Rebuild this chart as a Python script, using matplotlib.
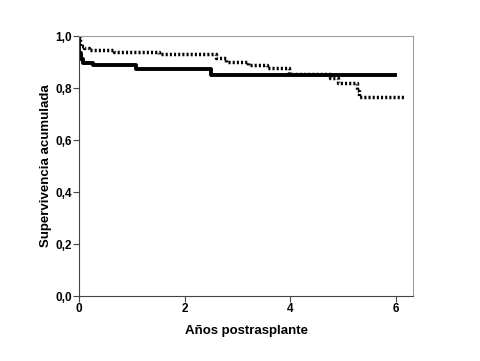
import matplotlib
matplotlib.use("Agg")
import matplotlib.pyplot as plt
from matplotlib.ticker import FuncFormatter

plt.rcParams['font.family'] = ['Liberation Sans', 'DejaVu Sans']

# solid group
t_solid = [0.0, 0.01, 0.04, 0.08, 0.27, 1.08, 2.5, 5.98]
s_solid = [1.0, 0.935, 0.912, 0.898, 0.888, 0.873, 0.851, 0.851]

# dotted group
t_dot = [0.0, 0.02, 0.1, 0.19, 0.66, 1.52, 2.6, 2.79, 3.19, 3.55, 3.98, 4.74, 4.9, 5.26, 5.3, 6.17]
s_dot = [1.0, 0.962, 0.953, 0.946, 0.94, 0.93, 0.914, 0.90, 0.888, 0.876, 0.856, 0.837, 0.818, 0.79, 0.764, 0.764]

xticks = [0, 2, 4, 6]
yticks = [0.0, 0.2, 0.4, 0.6, 0.8, 1.0]

fig = plt.figure(figsize=(4.81, 3.61), dpi=100)
ax = fig.add_axes([0.164, 0.18, 0.695, 0.72])

ax.step(t_dot, s_dot, where='post', color='black', lw=2.5, linestyle=(0, (0.6, 0.6)))
ax.step(t_solid, s_solid, where='post', color='black', lw=2.8)

ax.set_xlim(0, 6.32)
ax.set_ylim(0, 1.0)
ax.set_xticks(xticks)
ax.set_yticks(yticks)
ax.yaxis.set_major_formatter(FuncFormatter(lambda v, p: ('%.1f' % v).replace('.', ',')))

for lab in ax.get_xticklabels() + ax.get_yticklabels():
    lab.set_fontweight('bold')
ax.tick_params(labelsize=8.5, length=4, width=0.8, pad=1, color='#444444')

ax.set_xlabel('Años postrasplante', fontsize=9.5, fontweight='bold', labelpad=7)
ax.set_ylabel('Supervivencia acumulada', fontsize=9.5, fontweight='bold', labelpad=2.5)

for side in ['left', 'bottom']:
    ax.spines[side].set_color('#444444')
for side in ['top', 'right']:
    ax.spines[side].set_color('#a0a0a0')

fig.savefig('out.png', dpi=100)
